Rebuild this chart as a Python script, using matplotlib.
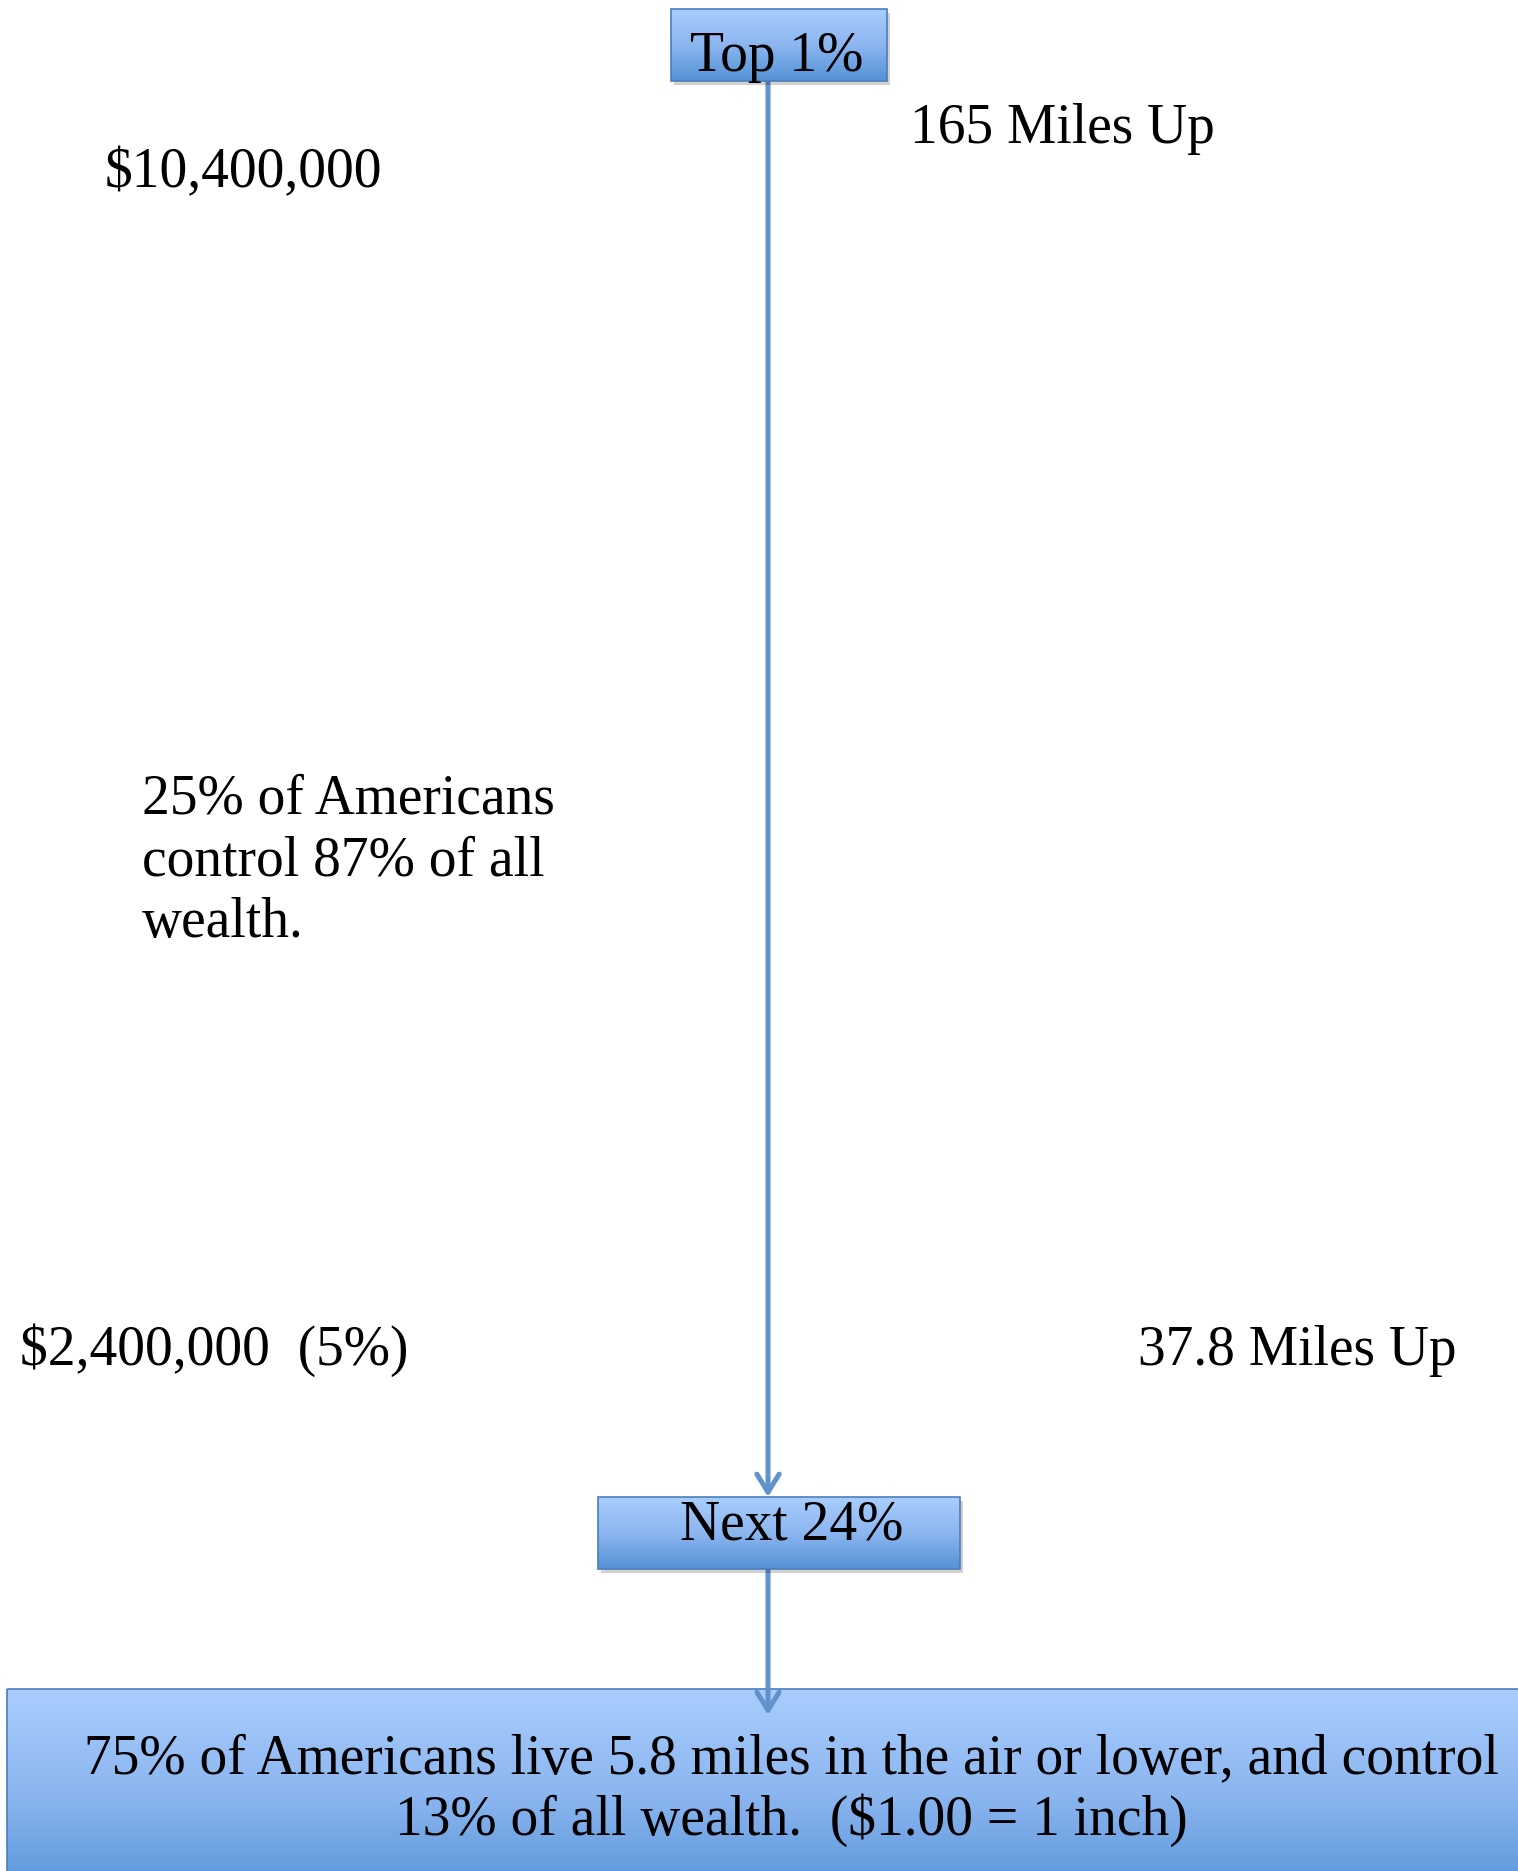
import numpy as np
import matplotlib.pyplot as plt
from matplotlib.patches import Rectangle, FancyArrowPatch
from matplotlib.colors import LinearSegmentedColormap

W, H = 1518, 1871

box_labels = ['Top 1%', 'Next 24%']
miles_labels = ['165 Miles Up', '37.8 Miles Up']
wealth_labels = ['$10,400,000', '$2,400,000  (5%)']
note_lines = ['25% of Americans', 'control 87% of all', 'wealth.']
bottom_lines = ['75% of Americans live 5.8 miles in the air or lower, and control',
                '13% of all wealth.  ($1.00 = 1 inch)']

# layout in pixel units (x0, y0, x1, y1), y downwards
top_box = (671, 9, 887, 81)
next_box = (598, 1497, 960, 1569)
base_box = (7, 1689, 1540, 1900)
line_x = 768

FONT = 'Liberation Serif'
FS = 40
edge = '#4a7ebb'
line_col = '#5f93cb'
cmap = LinearSegmentedColormap.from_list('box', ['#a9cdfd', '#8cb6f0', '#5592d6'])

fig = plt.figure(figsize=(W / 100, H / 100), dpi=100)
ax = fig.add_axes([0, 0, 1, 1])


def grad_box(b, z):
    x0, y0, x1, y1 = b
    ax.add_patch(Rectangle((x0 + 3, y0 + 4), x1 - x0, y1 - y0, color='#000000',
                           alpha=0.18, lw=0, zorder=z - 0.5))
    grad = np.linspace(0, 1, 256).reshape(-1, 1)
    ax.imshow(grad, cmap=cmap, extent=(x0, x1, y1, y0), aspect='auto',
              origin='upper', zorder=z)
    ax.add_patch(Rectangle((x0, y0), x1 - x0, y1 - y0, fill=False, ec=edge,
                           lw=1.2, zorder=z + 0.1))


grad_box(top_box, 3)
grad_box(next_box, 3)
grad_box(base_box, 1)

arrow_kw = dict(arrowstyle='->,head_length=13,head_width=8', color=line_col,
                lw=3.6, shrinkA=0, shrinkB=0, mutation_scale=1)
ax.add_patch(FancyArrowPatch((line_x, top_box[3]), (line_x, next_box[1]),
                             zorder=2, **arrow_kw))
ax.add_patch(FancyArrowPatch((line_x, next_box[3]), (line_x, base_box[1] + 26),
                             zorder=2, **arrow_kw))

txt = dict(fontfamily=FONT, fontsize=FS, color='black', va='baseline')
ax.text(777, 71, box_labels[0], ha='center', zorder=5, **txt)
ax.text(792, 1540, box_labels[1], ha='center', zorder=5, **txt)
ax.text(910, 143, miles_labels[0], ha='left', **txt)
ax.text(1138, 1365, miles_labels[1], ha='left', **txt)
ax.text(105, 187, wealth_labels[0], ha='left', **txt)
ax.text(20, 1365, wealth_labels[1], ha='left', **txt)
for i, s in enumerate(note_lines):
    ax.text(142, 813 + 62 * i, s, ha='left', **txt)
ax.text(791, 1773, bottom_lines[0], ha='center', zorder=5, **txt)
ax.text(791, 1835, bottom_lines[1], ha='center', zorder=5, **txt)

ax.set_xlim(0, W)
ax.set_ylim(H, 0)
ax.axis('off')
fig.savefig('out.png', dpi=100, facecolor='white')
